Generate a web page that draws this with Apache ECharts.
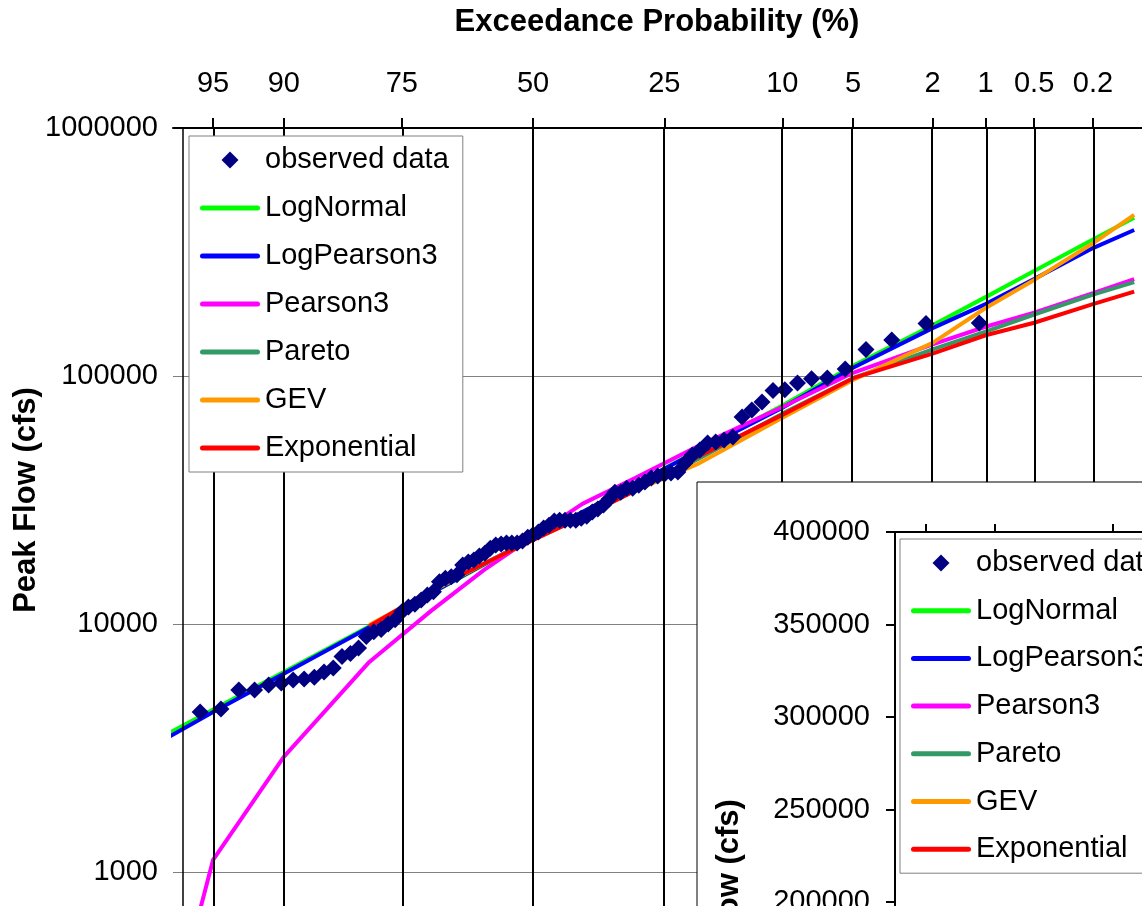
<!DOCTYPE html>
<html><head><meta charset="utf-8">
<script src="https://cdn.jsdelivr.net/npm/echarts@6/dist/echarts.min.js"></script>
<style>html,body{margin:0;padding:0;background:#fff}#c{width:1142px;height:906px}</style>
</head><body><div id="c"></div>
<script>
// ---------- data ----------
const probTicks = [95, 90, 75, 50, 25, 10, 5, 2, 1, 0.5, 0.2];
const probTickLabels = ['95', '90', '75', '50', '25', '10', '5', '2', '1', '0.5', '0.2'];
const insetProbTicks = [25, 10, 1];
const seriesNames = ['observed data', 'LogNormal', 'LogPearson3', 'Pearson3', 'Pareto', 'GEV', 'Exponential'];
const seriesColors = ['#000080', '#00FF00', '#0000FF', '#FF00FF', '#339966', '#FF9900', '#FF0000'];

// observed data: exceedance probability (%) and peak flow (cfs)
const obsProb = [1.09, 2.17, 3.26, 4.35, 5.43, 6.52, 7.61, 8.70, 9.78, 10.87, 11.96, 13.04, 14.13, 15.22, 16.30,
  17.39, 18.48, 19.57, 20.65, 21.74, 22.83, 23.91, 25.00, 26.09, 27.17, 28.26, 29.35, 30.43, 31.52, 32.61,
  33.70, 34.78, 35.87, 36.96, 38.04, 39.13, 40.22, 41.30, 42.39, 43.48, 44.57, 45.65, 46.74, 47.83, 48.91,
  50.00, 51.09, 52.17, 53.26, 54.35, 55.43, 56.52, 57.61, 58.70, 59.78, 60.87, 61.96, 63.04, 64.13, 65.22,
  66.30, 67.39, 68.48, 69.57, 70.65, 71.74, 72.83, 73.91, 75.00, 76.09, 77.17, 78.26, 79.35, 80.43, 81.52,
  82.61, 83.70, 84.78, 85.87, 86.96, 88.04, 89.13, 90.22, 91.30, 92.39, 93.48, 94.57, 95.65];
const obsFlow = [163700, 163000, 139700, 128000, 106700, 98200, 97500, 93800, 88000, 87500, 78600, 72900, 68400, 56800, 55200,
  54200, 53700, 50300, 48000, 44600, 41000, 40600, 40200, 39500, 38800, 37400, 36300, 35300, 35300, 34000,
  34000, 31900, 30200, 29100, 28300, 27200, 26700, 26200, 26200, 26200, 26200, 26000, 25000, 24400, 23500,
  22900, 22400, 21600, 21200, 21200, 21200, 21000, 20800, 20200, 19300, 18800, 18100, 17800, 17300, 15800,
  15500, 15300, 14800, 13500, 13100, 12500, 12000, 11700, 11200, 10400, 10000, 9500, 9300, 8900, 8000,
  7600, 7400, 6650, 6400, 6100, 6000, 5950, 5780, 5680, 5420, 5420, 4540, 4415];

// fitted curves, evaluated at these exceedance probabilities (%)
const curveProb = [99, 95, 90, 80, 70, 60, 50, 40, 30, 20, 10, 5, 2, 1, 0.5, 0.2, 0.1];
const logNormal   = [2340, 4520, 6410, 9800, 13300, 17300, 22100, 28200, 36600, 49800, 76100, 110000, 160000, 208000, 265000, 355000, 435000];
const logPearson3 = [2200, 4420, 6300, 9700, 13300, 17400, 22200, 28300, 36600, 49500, 74500, 108000, 156000, 195000, 246000, 328000, 388000];
const pearson3    = [10, 1120, 2910, 7030, 11300, 16500, 22500, 30500, 38800, 51800, 75000, 103000, 134000, 158000, 180000, 216000, 246000];
const pareto      = [null, null, null, 9800, 13500, 17500, 22000, 27500, 35000, 46000, 70500, 98000, 128000, 151000, 177000, 213000, 239000];
const gev         = [null, null, null, 9900, 13500, 17500, 21800, 27000, 34500, 44000, 67800, 96400, 136000, 188000, 244000, 343000, 446000];
const exponential = [null, null, null, 9800, 13700, 17500, 21800, 27000, 34500, 47000, 69700, 98000, 123000, 146000, 164000, 195000, 219000];

// ---------- probability axis transform (normal quantile) ----------
function normInv(p) {
  const a = [-3.969683028665376e+01, 2.209460984245205e+02, -2.759285104469687e+02, 1.383577518672690e+02, -3.066479806614716e+01, 2.506628277459239e+00];
  const b = [-5.447609879822406e+01, 1.615858368580409e+02, -1.556989798598866e+02, 6.680131188771972e+01, -1.328068155288572e+01];
  const c = [-7.784894002430293e-03, -3.223964580411365e-01, -2.400758277161838e+00, -2.549732539343734e+00, 4.374664141464968e+00, 2.938163982698783e+00];
  const d = [7.784695709041462e-03, 3.224671290700398e-01, 2.445134137142996e+00, 3.754408661907416e+00];
  const pl = 0.02425, ph = 1 - pl;
  let q, r;
  if (p < pl) { q = Math.sqrt(-2 * Math.log(p)); return (((((c[0]*q+c[1])*q+c[2])*q+c[3])*q+c[4])*q+c[5]) / ((((d[0]*q+d[1])*q+d[2])*q+d[3])*q+1); }
  if (p <= ph) { q = p - 0.5; r = q*q; return (((((a[0]*r+a[1])*r+a[2])*r+a[3])*r+a[4])*r+a[5])*q / (((((b[0]*r+b[1])*r+b[2])*r+b[3])*r+b[4])*r+1); }
  q = Math.sqrt(-2 * Math.log(1 - p));
  return -(((((c[0]*q+c[1])*q+c[2])*q+c[3])*q+c[4])*q+c[5]) / ((((d[0]*q+d[1])*q+d[2])*q+d[3])*q+1);
}
const zOf = pct => normInv(1 - pct / 100);

const tickZ = probTicks.map(zOf);
const insetTickZ = insetProbTicks.map(zOf);
const FONT = '"Liberation Sans", Arial, sans-serif';

function pairs(probs, vals) { return probs.map((p, i) => [zOf(p), vals[i]]); }

const curves = [logNormal, logPearson3, pearson3, pareto, gev, exponential];
const lineSeries = curves.map((vals, i) => ({
  name: seriesNames[i + 1], type: 'line', xAxisIndex: 0, yAxisIndex: 0,
  data: pairs(curveProb, vals), symbol: 'none', showSymbol: false, smooth: false,
  lineStyle: { color: seriesColors[i + 1], width: 4 }, itemStyle: { color: seriesColors[i + 1] },
  z: 2, clip: true, animation: false
}));

const barIcon = 'path://M2.5,0 L57.5,0 A2.5,2.5 0 0 1 57.5,5 L2.5,5 A2.5,2.5 0 0 1 2.5,0 Z';
const diamondIcon = 'path://M8,0 L16,8 L8,16 L0,8 Z';
const legendData = seriesNames.map((n, i) => ({ name: n, icon: i === 0 ? diamondIcon : barIcon }));

function legendCfg(left, top, gap, z) {
  return {
    orient: 'vertical', left: left, top: top, itemWidth: 60, itemHeight: 17, itemGap: gap,
    symbolKeepAspect: true, selectedMode: false, z: z,
    padding: [9, 14, 9, 11], backgroundColor: '#fff', borderColor: '#808080', borderWidth: 1, borderRadius: 0,
    textStyle: { fontSize: 29, lineHeight: 30, color: '#000', fontFamily: FONT },
    data: legendData
  };
}

const chart = echarts.init(document.getElementById('c'), null, { renderer: 'canvas' });
const xMin = -1.851, xMax = 3.3;
const option = {
  animation: false,
  backgroundColor: '#fff',
  textStyle: { fontFamily: FONT },
  grid: [
    { left: 173, top: 128, width: 1002, height: 1240, containLabel: false, outerBoundsMode: 'none' },
    { left: 895, top: 532, width: 400, height: 555, containLabel: false, outerBoundsMode: 'none', z: 55 }
  ],
  xAxis: [
    { type: 'value', gridIndex: 0, position: 'top', min: xMin, max: xMax,
      axisLine: { show: true, onZero: false, lineStyle: { color: '#000', width: 2 } },
      axisTick: { show: true, inside: false, length: 10, customValues: tickZ, lineStyle: { color: '#000', width: 2 } },
      axisLabel: { show: true, customValues: tickZ, margin: 30, fontSize: 29, color: '#000', fontFamily: FONT, hideOverlap: false,
        formatter: v => { let bi = 0, bd = 1e9; tickZ.forEach((t, i) => { const d = Math.abs(t - v); if (d < bd) { bd = d; bi = i; } }); return probTickLabels[bi]; } },
      splitLine: { show: false } },
    { type: 'value', gridIndex: 1, position: 'top', min: 0.401, max: 3.931, z: 60,
      axisLine: { show: true, onZero: false, lineStyle: { color: '#000', width: 2 } },
      axisTick: { show: true, inside: false, length: 8, customValues: insetTickZ, lineStyle: { color: '#000', width: 2 } },
      axisLabel: { show: false }, splitLine: { show: false } }
  ],
  yAxis: [
    { type: 'log', gridIndex: 0, logBase: 10, min: 10, max: 1000000,
      axisLine: { show: false }, axisTick: { show: false },
      axisLabel: { margin: 15, fontSize: 29, color: '#000', fontFamily: FONT, formatter: v => String(Math.round(v)) },
      splitLine: { show: true, lineStyle: { color: '#808080', width: 1 } } },
    { type: 'value', gridIndex: 1, min: 100000, max: 400000, interval: 50000, z: 60,
      axisLine: { show: true, onZero: false, lineStyle: { color: '#000', width: 2 } },
      axisTick: { show: true, inside: false, length: 9, lineStyle: { color: '#000', width: 2 } },
      axisLabel: { margin: 25, fontSize: 29, color: '#000', fontFamily: FONT, formatter: v => String(v) },
      splitLine: { show: false } }
  ],
  legend: [legendCfg(189, 136, 18, 10), legendCfg(900, 539, 17.7, 60)],
  graphic: [
    { type: 'rect', shape: { x: 697, y: 482, width: 600, height: 600 }, style: { fill: '#fff', stroke: '#000', lineWidth: 1 }, z: 50 },
    { type: 'text', x: 657, y: 22, z: 60, style: { text: 'Exceedance Probability (%)', fontSize: 31, fontWeight: 'bold', fontFamily: FONT, fill: '#000', align: 'center', verticalAlign: 'middle', textAlign: 'center', textVerticalAlign: 'middle' } },
    { type: 'text', x: 26, y: 500, rotation: Math.PI / 2, z: 60, style: { text: 'Peak Flow (cfs)', fontSize: 31, fontWeight: 'bold', fontFamily: FONT, fill: '#000', align: 'center', verticalAlign: 'middle', textAlign: 'center', textVerticalAlign: 'middle' } },
    { type: 'text', x: 729, y: 912, rotation: Math.PI / 2, z: 60, style: { text: 'Peak Flow (cfs)', fontSize: 31, fontWeight: 'bold', fontFamily: FONT, fill: '#000', align: 'center', verticalAlign: 'middle', textAlign: 'center', textVerticalAlign: 'middle' } }
  ],
  series: [
    { name: 'vgrid', type: 'line', xAxisIndex: 0, yAxisIndex: 0, data: [[xMin, 1000000]], symbol: 'none', lineStyle: { opacity: 0 }, z: 1, silent: true,
      markLine: { silent: true, symbol: ['none', 'none'], label: { show: false }, animation: false,
        lineStyle: { color: '#000', width: 2, type: 'solid' },
        data: tickZ.map(z => ({ xAxis: z })).concat([{ xAxis: -1.805, lineStyle: { color: '#000', width: 1.5, type: 'solid' } }]) } },
    { name: 'vgrid2', type: 'line', xAxisIndex: 1, yAxisIndex: 1, data: [[0.401, 400000]], symbol: 'none', lineStyle: { opacity: 0 }, z: 56, silent: true,
      markLine: { silent: true, symbol: ['none', 'none'], label: { show: false }, animation: false,
        lineStyle: { color: '#000', width: 2, type: 'solid' },
        data: insetTickZ.map(z => ({ xAxis: z })) } },
    ...lineSeries,
    { name: 'observed data', type: 'scatter', xAxisIndex: 0, yAxisIndex: 0, data: pairs(obsProb, obsFlow),
      symbol: 'diamond', symbolSize: 17, itemStyle: { color: '#000080', opacity: 1 }, z: 3, clip: true, animation: false }
  ]
};
chart.setOption(option);
</script>
</body></html>
